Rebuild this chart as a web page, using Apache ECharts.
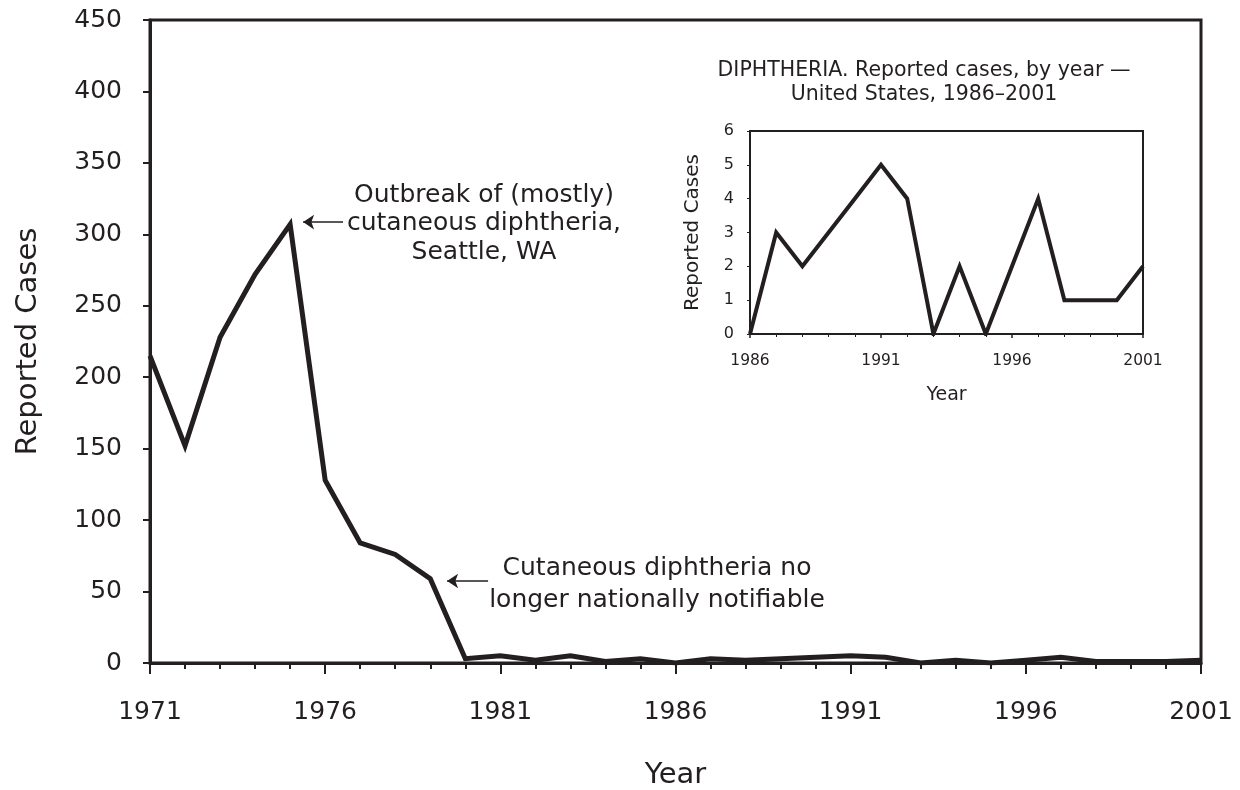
<!DOCTYPE html>
<html>
<head>
<meta charset="utf-8">
<script src="https://cdn.jsdelivr.net/npm/echarts@6/dist/echarts.min.js"></script>
<style>
  html, body { margin: 0; padding: 0; background: #fff; }
  #chart { width: 1240px; height: 790px; }
</style>
</head>
<body>
<div id="chart"></div>
<script>
// main chart: 1971-2001
var years = [1971, 1972, 1973, 1974, 1975, 1976, 1977, 1978, 1979, 1980,
             1981, 1982, 1983, 1984, 1985, 1986, 1987, 1988, 1989, 1990,
             1991, 1992, 1993, 1994, 1995, 1996, 1997, 1998, 1999, 2000, 2001];
var cases = [215, 152, 228, 272, 307, 128, 84, 76, 59, 3,
             5, 2, 5, 1, 3, 0, 3, 2, 3, 4,
             5, 4, 0, 2, 0, 2, 4, 1, 1, 1, 2];

// inset: 1986-2001
var insetYears = [1986, 1987, 1988, 1989, 1990, 1991, 1992, 1993,
                  1994, 1995, 1996, 1997, 1998, 1999, 2000, 2001];
var insetCases = [0, 3, 2, 3, 4, 5, 4, 0, 2, 0, 2, 4, 1, 1, 1, 2];

var ink = '#231f20';
var font = '"DejaVu Sans", sans-serif';
var plain = function (v) { return String(v); };

var mainData = years.map(function (y, i) { return [y, cases[i]]; });
var insetData = insetYears.map(function (y, i) { return [y, insetCases[i]]; });

var chart = echarts.init(document.getElementById('chart'));

chart.setOption({
  animation: false,
  backgroundColor: '#fff',
  textStyle: { fontFamily: font, color: ink },
  grid: [
    { left: 150, top: 20, width: 1051, height: 643, outerBoundsMode: 'none', containLabel: false,
      show: true, borderColor: ink, borderWidth: 3, backgroundColor: 'transparent' },
    { left: 750, top: 131, width: 393, height: 203, outerBoundsMode: 'none', containLabel: false,
      show: true, borderColor: ink, borderWidth: 2, backgroundColor: '#fff' }
  ],
  xAxis: [
    {
      gridIndex: 0, type: 'value', min: 1971, max: 2001, interval: 5,
      name: 'Year', nameLocation: 'middle', nameGap: 98,
      nameTextStyle: { fontSize: 29, color: ink, fontFamily: font },
      axisLine: { lineStyle: { color: ink, width: 3 } },
      axisTick: { length: 11, lineStyle: { color: ink, width: 2 } },
      minorTick: { show: true, splitNumber: 5, length: 6, lineStyle: { color: ink, width: 2 } },
      splitLine: { show: false },
      axisLabel: { fontSize: 25, color: ink, margin: 37, fontFamily: font, formatter: plain }
    },
    {
      gridIndex: 1, type: 'value', min: 1986, max: 2001, interval: 5,
      name: 'Year', nameLocation: 'middle', nameGap: 52,
      nameTextStyle: { fontSize: 19, color: ink, fontFamily: font },
      axisLine: { lineStyle: { color: ink, width: 2 } },
      axisTick: { length: 4, lineStyle: { color: ink, width: 1.5 } },
      minorTick: { show: true, splitNumber: 5, length: 3, lineStyle: { color: ink, width: 1 } },
      splitLine: { show: false },
      axisLabel: { fontSize: 15.5, color: ink, margin: 19, fontFamily: font, formatter: plain }
    }
  ],
  yAxis: [
    {
      gridIndex: 0, type: 'value', min: 0, max: 450, interval: 50,
      name: 'Reported Cases', nameLocation: 'middle', nameGap: 107,
      nameTextStyle: { fontSize: 29, color: ink, fontFamily: font },
      axisLine: { show: true, lineStyle: { color: ink, width: 3 } },
      axisTick: { show: true, length: 7, lineStyle: { color: ink, width: 2 } },
      splitLine: { show: false },
      axisLabel: { fontSize: 25, color: ink, margin: 28, fontFamily: font }
    },
    {
      gridIndex: 1, type: 'value', min: 0, max: 6, interval: 1,
      name: 'Reported Cases', nameLocation: 'middle', nameGap: 47,
      nameTextStyle: { fontSize: 20, color: ink, fontFamily: font },
      axisLine: { show: true, lineStyle: { color: ink, width: 2 } },
      axisTick: { show: true, length: 3, lineStyle: { color: ink, width: 1 } },
      splitLine: { show: false },
      axisLabel: { fontSize: 16, color: ink, margin: 16, fontFamily: font }
    }
  ],
  series: [
    {
      type: 'line', xAxisIndex: 0, yAxisIndex: 0, data: mainData,
      showSymbol: false, symbol: 'none',
      lineStyle: { color: ink, width: 5, join: 'miter' },
      z: 3,
      markLine: {
        silent: true,
        symbol: ['none', 'arrow'],
        symbolSize: 11,
        label: { show: false },
        lineStyle: { color: ink, width: 1.5, type: 'solid' },
        data: [
          [{ coord: [1976.51, 308.6] }, { coord: [1975.37, 308.6] }],
          [{ coord: [1980.65, 57.4] }, { coord: [1979.48, 57.4] }]
        ]
      }
    },
    {
      type: 'line', xAxisIndex: 1, yAxisIndex: 1, data: insetData,
      showSymbol: false, symbol: 'none',
      lineStyle: { color: ink, width: 4, join: 'miter' },
      z: 5
    }
  ],
  graphic: [
    {
      type: 'text', x: 924, y: 58, z: 10,
      style: {
        text: 'DIPHTHERIA. Reported cases, by year —\nUnited States, 1986–2001',
        align: 'center', verticalAlign: 'top', font: '20.5px ' + font, fill: ink, lineHeight: 24.5
      }
    },
    {
      type: 'text', x: 484, y: 181, z: 10,
      style: {
        text: 'Outbreak of (mostly)\ncutaneous diphtheria,\nSeattle, WA',
        align: 'center', verticalAlign: 'top', font: '25px ' + font, fill: ink, lineHeight: 28.5
      }
    },
    {
      type: 'text', x: 657, y: 552, z: 10,
      style: {
        text: 'Cutaneous diphtheria no\nlonger nationally notifiable',
        align: 'center', verticalAlign: 'top', font: '25px ' + font, fill: ink, lineHeight: 32
      }
    }
  ]
});
</script>
</body>
</html>
